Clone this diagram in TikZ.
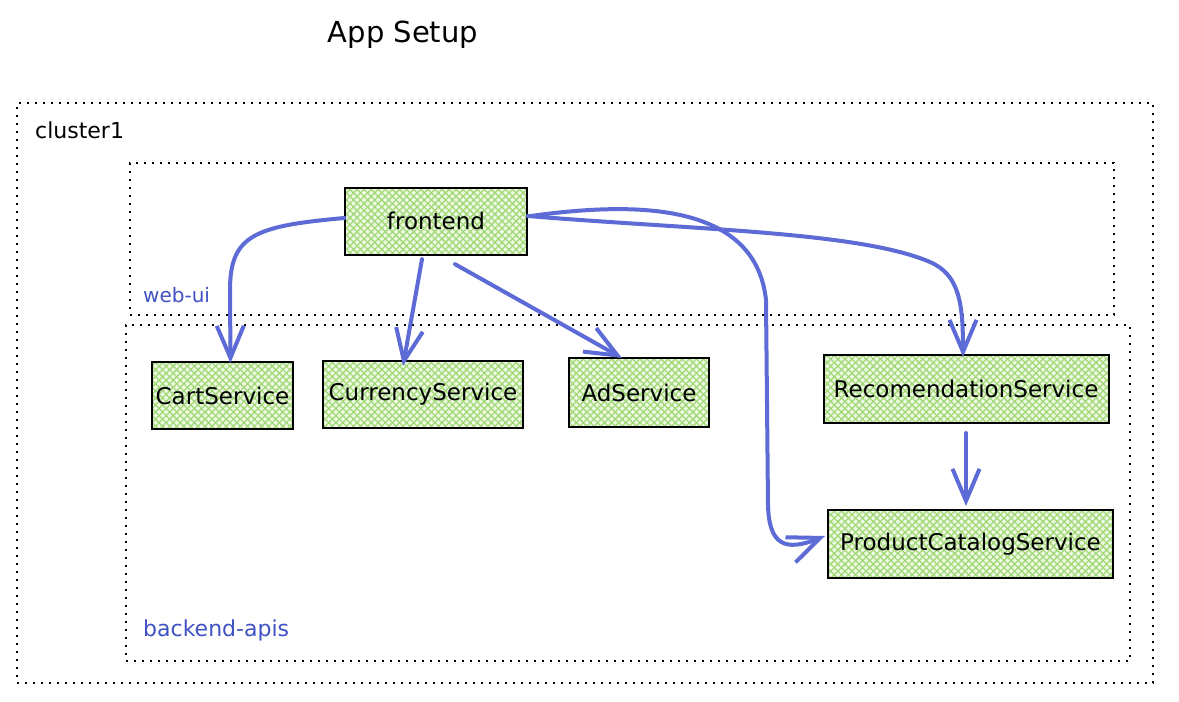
\documentclass[tikz,border=0pt]{standalone}
\usepackage{fontspec}
\setmainfont{DejaVu Sans}
\usetikzlibrary{arrows.meta,patterns.meta}
\definecolor{hatchbg}{HTML}{EEF9E4}
\definecolor{hatchln}{HTML}{A2D875}
\definecolor{arrowblue}{HTML}{5C6BD6}
\definecolor{labelblue}{HTML}{4052C4}
\tikzset{
  svc/.style={draw=black, line width=2pt, inner sep=0pt, minimum height=67pt,
    font=\fontsize{23}{25}\selectfont,
    preaction={fill=hatchbg},
    preaction={pattern={Lines[angle=45,distance=5pt,line width=1.3pt]}, pattern color=hatchln},
    pattern={Lines[angle=-45,distance=5pt,line width=1.3pt]}, pattern color=hatchln},
  grp/.style={draw=black, line width=2.2pt, dash pattern=on 2pt off 6pt},
  conn/.style={draw=arrowblue, line width=4pt, line cap=round, line join=round,
    -{Straight Barb[length=32pt,width=27pt,line width=4pt]}},
  grplabel/.style={anchor=west, inner sep=0pt, text=labelblue}
}
\begin{document}
\begin{tikzpicture}[x=1pt,y=-1pt]
\useasboundingbox[fill=white] (0,0) rectangle (1179,702);
% title
\node[font=\fontsize{29}{31}\selectfont] (title) at (403,35) {App Setup};
% groups
\node[grp, minimum width=1136pt, minimum height=580pt, inner sep=0pt] (cluster) at (585,393) {};
\node[anchor=west, inner sep=0pt, font=\fontsize{22}{24}\selectfont] (clusterlbl) at (35,130) {cluster1};
\node[grp, minimum width=984pt, minimum height=152pt, inner sep=0pt] (webui) at (622,239) {};
\node[grplabel, font=\fontsize{20}{22}\selectfont] (webuilbl) at (143,295) {web-ui};
\node[grp, minimum width=1004pt, minimum height=336pt, inner sep=0pt] (backend) at (628,493) {};
\node[grplabel, font=\fontsize{22}{24}\selectfont] (backendlbl) at (143,630) {backend-apis};
% services
\node[svc, minimum width=182pt] (fe) at (436,221) {frontend};
\node[svc, minimum width=141pt] (cart) at (222.5,395.5) {CartService};
\node[svc, minimum width=200pt] (cur) at (423,394.5) {CurrencyService};
\node[svc, minimum width=140pt, minimum height=69pt] (ad) at (639,392.5) {AdService};
\node[svc, minimum width=285pt, minimum height=68pt] (rec) at (966,389) {RecomendationService};
\node[svc, minimum width=285pt, minimum height=68pt] (pc) at (970.5,544) {ProductCatalogService};
% connectors
\coordinate (c1) at (230,290);
\draw[conn] ([yshift=3pt]fe.west) .. controls (255,226) and (230,235) .. (c1) -- ([xshift=8pt,yshift=-2pt]cart.north);
\draw[conn] ([xshift=-14pt,yshift=-4pt]fe.south) -- ([xshift=-20pt,yshift=-6pt]cur.north);
\draw[conn] ([xshift=19pt,yshift=-9pt]fe.south) -- ([xshift=-17pt,yshift=-1pt]ad.north);
\coordinate (c2) at (930,262);
\draw[conn] ([yshift=5pt]fe.east) .. controls (700,230) and (860,232) .. (c2) .. controls (960,275) and (963,305) .. ([xshift=-3pt,yshift=-3pt]rec.north);
\coordinate (c3) at (766,300);
\coordinate (c4) at (768,505);
\draw[conn] ([xshift=3pt,yshift=5pt]fe.east) .. controls (625,203) and (755,198) .. (c3) -- (c4) .. controls (769,545) and (785,552) .. ([xshift=-2pt,yshift=8pt]pc.west);
\draw[conn] ([yshift=-9pt]rec.south) -- ([xshift=-4.5pt,yshift=3pt]pc.north);
\end{tikzpicture}
\end{document}
